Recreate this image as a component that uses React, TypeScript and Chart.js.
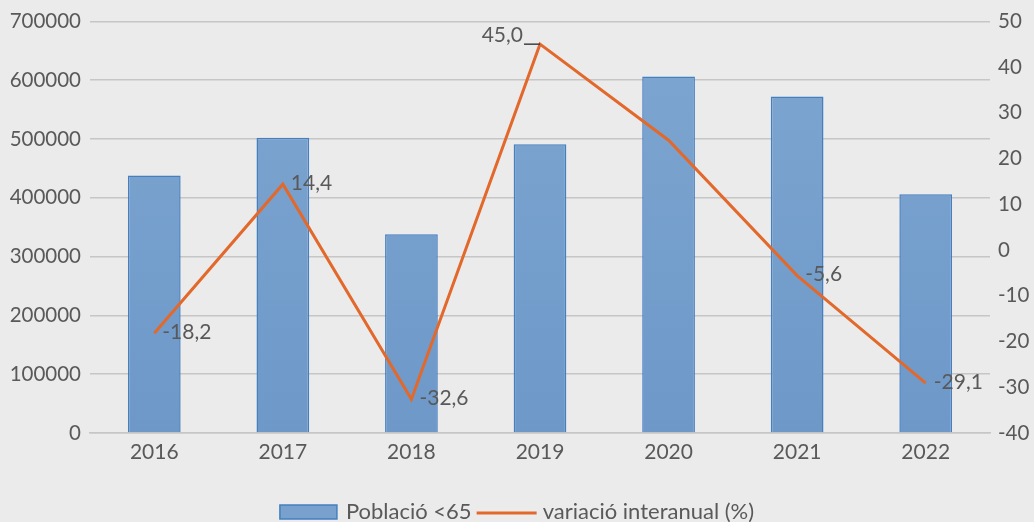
import React, { useEffect, useRef } from "react";
import { Chart, registerables } from "chart.js";

Chart.register(...registerables);

const years = ["2016", "2017", "2018", "2019", "2020", "2021", "2022"];
const poblacio = [438000, 502000, 338000, 491000, 606000, 572000, 406000];
const variacio = [-18.2, 14.4, -32.6, 45.0, 24.0, -5.6, -29.1];
const variacioLabels = ["-18,2", "14,4", "-32,6", "45,0", "", "-5,6", "-29,1"];
const barLegend = "Població <65";
const lineLegend = "variació interanual (%)";

const FONT = "Lato, 'Open Sans', sans-serif";
const TEXT = "#595959";
const BG = "#ebebeb";
const GRID = "#c6c6c6";
const ORANGE = "#e2692b";
const BAR_BORDER = "#457fc0";

const bgPlugin = {
  id: "bg",
  beforeDraw(chart: any) {
    const { ctx, width, height } = chart;
    ctx.save();
    ctx.fillStyle = BG;
    ctx.fillRect(0, 0, width, height);
    ctx.restore();
  },
};

const labelPlugin = {
  id: "lineLabels",
  afterDatasetsDraw(chart: any) {
    const { ctx } = chart;
    const meta = chart.getDatasetMeta(1);
    ctx.save();
    ctx.font = `21px ${FONT}`;
    ctx.fillStyle = TEXT;
    meta.data.forEach((pt: any, i: number) => {
      const txt = variacioLabels[i];
      if (!txt) return;
      if (i === 3) {
        ctx.textAlign = "right";
        ctx.textBaseline = "alphabetic";
        ctx.fillText(txt, pt.x - 17, pt.y - 2);
        ctx.strokeStyle = "#404040";
        ctx.lineWidth = 1.5;
        ctx.beginPath();
        ctx.moveTo(pt.x - 16, pt.y);
        ctx.lineTo(pt.x, pt.y);
        ctx.stroke();
      } else {
        ctx.textAlign = "left";
        ctx.textBaseline = "middle";
        ctx.fillText(txt, pt.x + 8, pt.y - 1);
      }
    });
    ctx.restore();
  },
};

const legendPlugin = {
  id: "customLegend",
  afterDraw(chart: any) {
    const { ctx } = chart;
    ctx.save();
    ctx.font = `22px ${FONT}`;
    const w1 = ctx.measureText(barLegend).width;
    const w2 = ctx.measureText(lineLegend).width;
    const boxW = 57;
    const lineW = 60;
    const total = boxW + 9 + w1 + 5 + lineW + 6 + w2;
    let x = (chart.width - total) / 2;
    const y = 512;
    ctx.fillStyle = "#78a1cd";
    ctx.strokeStyle = BAR_BORDER;
    ctx.lineWidth = 1.5;
    ctx.fillRect(x, y - 7, boxW, 14);
    ctx.strokeRect(x, y - 7, boxW, 14);
    x += boxW + 9;
    ctx.fillStyle = TEXT;
    ctx.textAlign = "left";
    ctx.textBaseline = "middle";
    ctx.fillText(barLegend, x, y);
    x += w1 + 5;
    ctx.strokeStyle = ORANGE;
    ctx.lineWidth = 3;
    ctx.beginPath();
    ctx.moveTo(x, y + 1);
    ctx.lineTo(x + lineW, y + 1);
    ctx.stroke();
    x += lineW + 6;
    ctx.fillText(lineLegend, x, y);
    ctx.restore();
  },
};

export default function App() {
  const ref = useRef<HTMLCanvasElement>(null);
  useEffect(() => {
    document.body.style.margin = "0";
    const canvas = ref.current!;
    const ctx = canvas.getContext("2d")!;
    const grad = ctx.createLinearGradient(0, 21, 0, 433);
    grad.addColorStop(0, "#7ea6d1");
    grad.addColorStop(1, "#6d98c8");
    const chart = new Chart(canvas, {
      type: "bar",
      data: {
        labels: years,
        datasets: [
          {
            type: "bar",
            label: barLegend,
            data: poblacio,
            backgroundColor: grad,
            borderColor: BAR_BORDER,
            borderWidth: 1.5,
            categoryPercentage: 1,
            barPercentage: 0.41,
            yAxisID: "y",
            order: 2,
          },
          {
            type: "line",
            label: lineLegend,
            data: variacio,
            borderColor: ORANGE,
            borderWidth: 3,
            pointRadius: 0,
            tension: 0,
            fill: false,
            yAxisID: "y1",
            order: 1,
          } as any,
        ],
      },
      options: {
        animation: false,
        responsive: false,
        maintainAspectRatio: false,
        layout: { padding: { top: 21, bottom: 0, left: 0, right: 0 } },
        plugins: { legend: { display: false }, tooltip: { enabled: false } },
        scales: {
          x: {
            grid: { display: false, drawTicks: false },
            border: { display: true, color: GRID, width: 1.5 },
            ticks: { color: TEXT, font: { family: FONT, size: 21 }, padding: 7 },
            afterFit: (s: any) => {
              s.height = 89;
            },
          },
          y: {
            position: "left",
            min: 0,
            max: 700000,
            ticks: {
              stepSize: 100000,
              color: TEXT,
              font: { family: FONT, size: 20.5 },
              padding: 9,
              callback: (v: any) => String(v),
            },
            grid: { color: GRID, lineWidth: 1.5, drawTicks: false },
            border: { display: false },
            afterFit: (s: any) => {
              s.width = 90;
            },
          },
          y1: {
            position: "right",
            min: -40,
            max: 50,
            ticks: {
              stepSize: 10,
              color: TEXT,
              font: { family: FONT, size: 20.5 },
              padding: 8,
              callback: (v: any) => String(v),
            },
            grid: { display: false, drawTicks: false },
            border: { display: false },
            afterFit: (s: any) => {
              s.width = 44;
            },
          },
        },
      },
      plugins: [bgPlugin, labelPlugin, legendPlugin],
    });
    return () => chart.destroy();
  }, []);
  return (
    <div style={{ width: 1034, height: 522 }}>
      <canvas ref={ref} width={1034} height={522} style={{ display: "block" }} />
    </div>
  );
}
